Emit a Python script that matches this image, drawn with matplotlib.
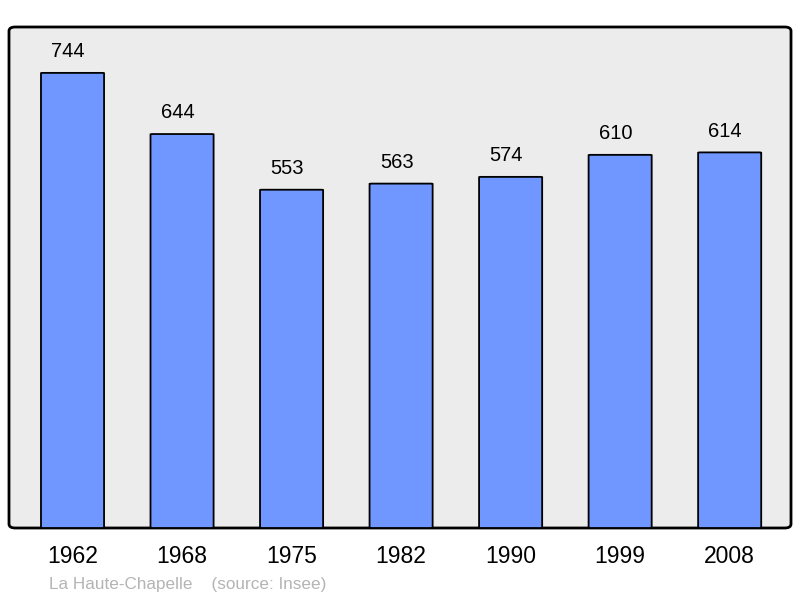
import matplotlib
matplotlib.use("Agg")
import matplotlib.pyplot as plt
from matplotlib.patches import FancyBboxPatch

# Data
years = ["1962", "1968", "1975", "1982", "1990", "1999", "2008"]
population = [744, 644, 553, 563, 574, 610, 614]
commune = "La Haute-Chapelle"
source = "(source: Insee)"

plt.rcParams["font.family"] = ["Liberation Sans", "DejaVu Sans"]

fig = plt.figure(figsize=(8, 5.98), dpi=100)
ax = fig.add_axes([9 / 800, 70 / 598, 782 / 800, 501 / 598])
ax.set_facecolor("none")

# Rounded frame
frame = FancyBboxPatch((0, 0), 1, 1, boxstyle="round,pad=0,rounding_size=0.008",
                       transform=ax.transAxes, facecolor="#ececec",
                       edgecolor="black", linewidth=2, clip_on=False, zorder=0)
ax.add_patch(frame)

x = list(range(len(years)))
for xi, v in zip(x, population):
    bar = FancyBboxPatch((xi - 0.288, 0), 0.576, v,
                         boxstyle="round,pad=0,rounding_size=0.02",
                         mutation_aspect=25,
                         facecolor="#7096ff", edgecolor="black",
                         linewidth=1.3, zorder=2)
    ax.add_patch(bar)
    ax.text(xi - 0.04, v + 19, str(v), ha="center", va="bottom", fontsize=14.5)

ax.set_xlim(-0.58, 6.56)
ax.set_ylim(0, 819)
for s in ax.spines.values():
    s.set_visible(False)
ax.set_xticks(x)
ax.set_xticklabels(years, fontsize=16.5)
ax.tick_params(axis="x", length=0, pad=12)
ax.set_yticks([])

fig.text(49 / 800, 1 - 584 / 598, commune + "    " + source, fontsize=12.3,
         color="#b4b4b4", ha="left", va="center")

fig.savefig("out.png", dpi=100)
